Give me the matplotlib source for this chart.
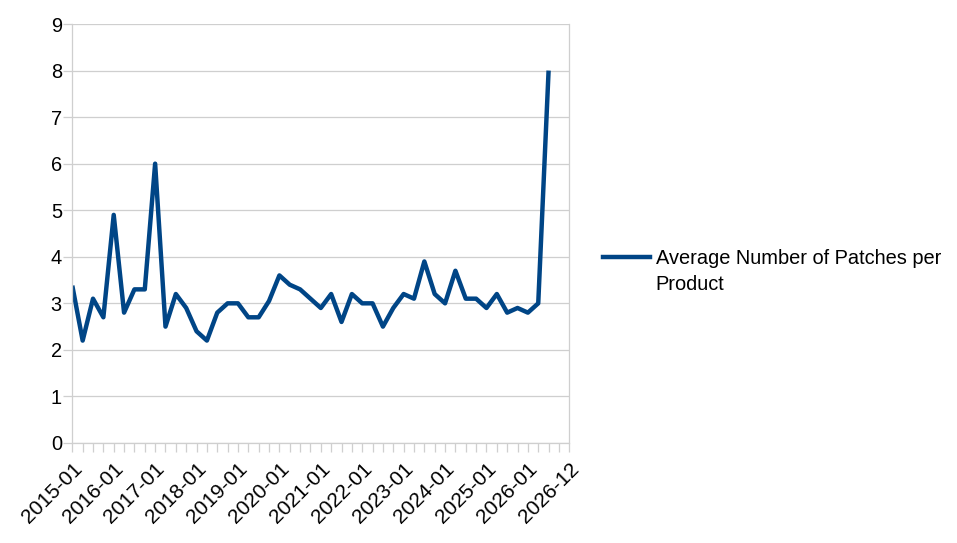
import matplotlib
matplotlib.use("Agg")
import matplotlib.pyplot as plt
from matplotlib.lines import Line2D
import pandas as pd

plt.rcParams['font.family'] = ['Liberation Sans', 'DejaVu Sans']

# quarterly data points, 2015-01 .. 2026-07
quarters = pd.date_range("2015-01-01", "2026-07-01", freq="QS")
values = [3.38, 2.2, 3.1, 2.7, 4.9, 2.8, 3.3, 3.3, 6.0, 2.5,
          3.2, 2.9, 2.4, 2.2, 2.8, 3.0, 3.0, 2.7, 2.7, 3.05,
          3.6, 3.4, 3.3, 3.1, 2.9, 3.2, 2.6, 3.2, 3.0, 3.0,
          2.5, 2.9, 3.2, 3.1, 3.9, 3.2, 3.0, 3.7, 3.1, 3.1,
          2.9, 3.2, 2.8, 2.9, 2.8, 3.0, 8.0]
series_name = "Average Number of Patches per\nProduct"

tick_labels = ["2015-01", "2016-01", "2017-01", "2018-01", "2019-01", "2020-01",
               "2021-01", "2022-01", "2023-01", "2024-01", "2025-01", "2026-01",
               "2026-12"]
tick_months = [0, 12, 24, 36, 48, 60, 72, 84, 96, 108, 120, 132, 144]

# months since 2015-01
months = [(d.year - 2015) * 12 + d.month - 1 for d in quarters]

color = '#004586'
grid_c = '#cfcfcf'

fig = plt.figure(figsize=(9.57, 5.43), dpi=100)
ax = fig.add_axes([72.3 / 957, 100 / 543, 497 / 957, 419 / 543])

ax.plot(months, values, color=color, lw=3.2, solid_joinstyle='round',
        solid_capstyle='butt')

ax.set_xlim(0, 144)
ax.set_ylim(0, 9)
ax.set_yticks(range(0, 10))
ax.set_xticks(tick_months)
ax.set_xticklabels(tick_labels, rotation=45, ha='right', va='top',
                   rotation_mode='anchor')
ax.set_xticks(range(0, 145, 3), minor=True)

ax.grid(axis='y', color=grid_c, lw=0.9)
ax.set_axisbelow(True)
for s in ['left', 'right', 'bottom']:
    ax.spines[s].set_color(grid_c)
    ax.spines[s].set_linewidth(0.9)
ax.spines['top'].set_visible(False)

ax.tick_params(axis='both', which='both', color=grid_c, width=0.9,
               length=6.5, labelsize=14.4, labelcolor='black')
ax.tick_params(axis='y', pad=1)
ax.tick_params(axis='x', pad=5, labelsize=15)

# legend
fig.add_artist(Line2D([603 / 957, 650 / 957], [1 - 256.7 / 543] * 2,
                      color=color, lw=3.2))
fig.text(655.7 / 957, 1 - 249 / 543, series_name, fontsize=14.4,
         va='top', ha='left', linespacing=1.5)

fig.savefig("out.png", dpi=100)
